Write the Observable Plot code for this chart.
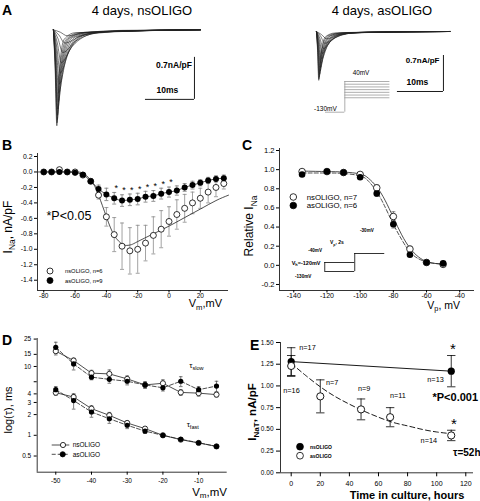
<!DOCTYPE html>
<html><head><meta charset="utf-8">
<script src="https://cdn.jsdelivr.net/npm/d3@7"></script>
<script src="https://cdn.jsdelivr.net/npm/@observablehq/plot@0.6"></script>
<style>
body{margin:0;background:#fff}
#root{position:relative;width:480px;height:501px;overflow:hidden;background:#fff}
</style></head>
<body><div id="root"></div>
<script>
// ---------------- DATA ----------------
// Panel A: current traces, [time ms, current nA/pF] control points
const tracesNs = [
 [[0,0],[0.35,-0.64],[0.7,-1.6],[1.1,-0.8],[2.2,-0.16],[4.4,-0.05],[30,0]],
 [[0,0],[0.38,-0.62],[0.75,-1.55],[1.2,-0.78],[2.6,-0.16],[5.2,-0.05],[30,0]],
 [[0,0],[0.4,-0.6],[0.8,-1.5],[1.35,-0.75],[3.0,-0.15],[6,-0.05],[30,0]],
 [[0,0],[0.43,-0.57],[0.85,-1.42],[1.5,-0.71],[3.4,-0.14],[6.8,-0.04],[30,0]],
 [[0,0],[0.45,-0.53],[0.9,-1.32],[1.7,-0.66],[3.9,-0.13],[7.8,-0.04],[30,0]],
 [[0,0],[0.5,-0.48],[1.0,-1.2],[1.95,-0.6],[4.5,-0.12],[9,-0.04],[30,0]],
 [[0,0],[0.55,-0.42],[1.1,-1.05],[2.3,-0.53],[5.2,-0.11],[10.4,-0.03],[30,0]],
 [[0,0],[0.63,-0.36],[1.25,-0.9],[2.7,-0.45],[6,-0.09],[12,-0.03],[30,0]],
 [[0,0],[0.7,-0.29],[1.4,-0.72],[3.2,-0.36],[7,-0.07],[14,-0.02],[30,0]],
 [[0,0],[0.8,-0.22],[1.6,-0.55],[3.8,-0.28],[8.5,-0.06],[17,-0.02],[30,0]],
 [[0,0],[0.95,-0.15],[1.9,-0.38],[4.5,-0.19],[10,-0.04],[20,-0.01],[30,0]],
 [[0,0],[1.15,-0.09],[2.3,-0.22],[5.5,-0.11],[12,-0.02],[30,0]],
 [[0,0],[1.4,-0.04],[2.8,-0.1],[6.5,-0.05],[14,-0.01],[30,0]]
];
const tracesAs = [
 [[0,0],[0.25,-0.38],[0.5,-0.95],[0.9,-0.48],[2.0,-0.1],[4,-0.03],[29,0]],
 [[0,0],[0.28,-0.37],[0.55,-0.92],[1.0,-0.46],[2.4,-0.09],[4.8,-0.03],[29,0]],
 [[0,0],[0.3,-0.35],[0.6,-0.88],[1.15,-0.44],[2.8,-0.09],[5.6,-0.03],[29,0]],
 [[0,0],[0.35,-0.33],[0.7,-0.83],[1.3,-0.42],[3.2,-0.08],[6.4,-0.02],[29,0]],
 [[0,0],[0.4,-0.31],[0.8,-0.77],[1.5,-0.39],[3.7,-0.08],[7.4,-0.02],[29,0]],
 [[0,0],[0.45,-0.28],[0.9,-0.7],[1.75,-0.35],[4.2,-0.07],[8.4,-0.02],[29,0]],
 [[0,0],[0.5,-0.25],[1.0,-0.62],[2.0,-0.31],[4.9,-0.06],[9.8,-0.02],[29,0]],
 [[0,0],[0.58,-0.21],[1.15,-0.53],[2.4,-0.27],[5.6,-0.05],[11.2,-0.02],[29,0]],
 [[0,0],[0.65,-0.17],[1.3,-0.43],[2.8,-0.22],[6.5,-0.04],[13,-0.01],[29,0]],
 [[0,0],[0.75,-0.13],[1.5,-0.33],[3.3,-0.17],[7.5,-0.03],[15,-0.01],[29,0]],
 [[0,0],[0.9,-0.09],[1.8,-0.23],[4.0,-0.12],[9,-0.02],[29,0]],
 [[0,0],[1.1,-0.06],[2.2,-0.14],[5,-0.07],[11,-0.01],[29,0]]
];
const scaleBarMs = 10, scaleBarAmp = 0.7;
const scaleCornerNs = [28.8, -1.16], scaleCornerAs = [27.6, -1.167];
// voltage protocol (A, right)
const protoHoldMv = -130, protoStepsMv = [40, 25, 10, -5, -20, -35, -50];
const protoTimesMs = [0, 4.2, 14];

// Panel B: I-V
const bV   = [-80,-75,-70,-65,-60,-55,-50,-45,-40,-35,-30,-25,-20,-15,-10,-5,0,5,10,15,20,25,30,35];
const bNs  = [0,0,0.03,0,0,-0.04,-0.12,-0.3,-0.58,-0.81,-0.96,-1.02,-1.0,-0.92,-0.82,-0.74,-0.64,-0.55,-0.47,-0.4,-0.34,-0.26,-0.2,-0.15];
const bNsErr = [0.01,0.01,0.02,0.01,0.01,0.02,0.03,0.05,0.12,0.22,0.3,0.3,0.31,0.23,0.24,0.24,0.19,0.19,0.18,0.14,0.13,0.14,0.12,0.07];
const bAs  = [0,0,0,0,-0.01,-0.035,-0.12,-0.22,-0.29,-0.34,-0.37,-0.36,-0.35,-0.32,-0.31,-0.28,-0.26,-0.24,-0.2,-0.17,-0.14,-0.11,-0.09,-0.08];
const bAsErr = [0.01,0.01,0.01,0.01,0.01,0.02,0.03,0.05,0.08,0.075,0.075,0.075,0.075,0.07,0.07,0.07,0.065,0.06,0.05,0.05,0.04,0.04,0.04,0.04];
const bFitV = [-84,-60,-55,-50,-45,-40,-35,-30,-27,-24,-20,-10,0,10,20,30,38];
const bFitI = [0,0,-0.02,-0.1,-0.3,-0.58,-0.82,-0.93,-0.95,-0.94,-0.9,-0.8,-0.7,-0.59,-0.48,-0.37,-0.3];
const bStarV = [-35,-30,-25,-20,-15,-10,-5,0];
const bXTicks = [-80,-60,-40,-20,0,20];
const bYTicks = [0.2,0,-0.2,-0.4,-0.6,-0.8,-1.0,-1.2,-1.4];

// Panel C: steady-state inactivation
const cV = [-135,-120,-110,-100,-90,-80,-70,-60,-50];
const cNs = [0.98,0.98,0.97,0.95,0.81,0.51,0.17,0.03,0.01];
const cNsErr = [0.01,0.01,0.01,0.01,0.03,0.05,0.03,0.01,0.01];
const cAs = [0.95,0.98,0.97,0.92,0.75,0.43,0.11,0.03,0.02];
const cAsErr = [0.01,0.01,0.01,0.02,0.03,0.04,0.02,0.01,0.01];
const cFitV = [-135,-120,-110,-100,-95,-90,-85,-80,-75,-70,-65,-60,-55,-50];
const cFitNs = [0.985,0.98,0.975,0.955,0.91,0.82,0.68,0.5,0.32,0.18,0.09,0.04,0.02,0.01];
const cFitAs = [0.965,0.965,0.96,0.935,0.88,0.77,0.61,0.43,0.27,0.14,0.07,0.035,0.02,0.015];
const cXTicks = [-140,-120,-100,-80,-60,-40];
const cYTicks = [-0.2,0,0.2,0.4,0.6,0.8,1.0,1.2];
// inset protocol (C)
const cProtoHoldMv = -120, cProtoPreMv = [-40,-55,-70,-85,-100,-115,-130], cProtoTestMv = -30;
const cProtoTimesS = [0, 2.17, 4.17, 6.17];

// Panel D: time constants
const dV = [-50,-45,-40,-35,-30,-25,-20,-15,-10,-5];
const dSlowNs = [16.7,12.2,8.0,7.8,6.6,5.4,5.7,4.2,4.1,3.9];
const dSlowNsErr = [2,1,0.8,1.1,0.7,0.5,0.7,0.4,0.4,0.3];
const dSlowAs = [19,10.9,7.0,6.5,6.1,5.4,4.9,6.1,4.6,5.2];
const dSlowAsErr = [3.5,2,0.6,0.8,0.7,0.6,0.5,1.0,0.5,0.9];
const dFastNs = [4.16,3.6,2.44,1.95,1.51,1.25,1.0,0.865,0.774,0.69];
const dFastNsErr = [0.35,0.35,0.25,0.2,0.1,0.07,0.05,0.04,0.03,0.03];
const dFastAs = [4.6,3.2,2.18,1.74,1.4,1.15,1.0,0.875,0.78,0.69];
const dFastAsErr = [0.5,0.8,0.35,0.25,0.15,0.08,0.05,0.05,0.04,0.03];
const dXTicks = [-50,-40,-30,-20,-10];
const dYTicks = [0.5,1,2,3,4,6,10,15,25];

// Panel E: current density vs time in culture
const eTimeNs = [0,110], eNs = [1.28,1.17], eNsErr = [0.16,0.18];
const eTimeAs = [0,20,48,68,110], eAs = [1.23,0.88,0.73,0.64,0.43], eAsErr = [0.12,0.19,0.12,0.11,0.06];
const eFitT = [0,10,20,30,40,50,60,70,80,90,100,110];
const eFitAs = [1.26,1.12,0.99,0.88,0.79,0.71,0.64,0.58,0.54,0.5,0.47,0.45];
const eNLabels = ["n=17","n=16","n=7","n=9","n=11","n=13","n=14"];
const eNLabelT = [11.2,0.2,28.2,50.2,73.4,99.2,94.6];
const eNLabelV = [1.44,0.94,1.04,0.97,0.89,1.07,0.37];
const eXTicks = [0,20,40,60,80,100,120];
const eYTicks = [0,0.25,0.5,0.75,1.0,1.25,1.5];

// ---------------- RENDER ----------------
const FONT = "Arial, 'Liberation Sans', Helvetica, sans-serif";
const root = document.getElementById("root");
function mount(svg, left, top) {
  svg.style.position = "absolute"; svg.style.left = left + "px"; svg.style.top = top + "px";
  svg.style.maxWidth = "none"; svg.style.background = "transparent"; svg.style.overflow = "visible";
  root.appendChild(svg);
}
const baseStyle = {fontFamily: FONT, fontSize: "7px", color: "black", background: "transparent", overflow: "visible"};
const cap = {draw(ctx, size) { const r = Math.sqrt(size / Math.PI); ctx.moveTo(-r, 0); ctx.lineTo(r, 0); }};
function errMarks(rows, x, y, e, color, capR, w = 0.8) {
  return [
    Plot.ruleX(rows, {x, y1: d => d[y] - d[e], y2: d => d[y] + d[e], stroke: color, strokeWidth: w}),
    Plot.dot(rows, {x, y: d => d[y] - d[e], symbol: cap, r: capR, stroke: color, fill: "none", strokeWidth: w}),
    Plot.dot(rows, {x, y: d => d[y] + d[e], symbol: cap, r: capR, stroke: color, fill: "none", strokeWidth: w})
  ];
}
const traceRows = trs => trs.flatMap((tr, k) => tr.map(([t, I]) => ({k, t, I})));

// A left
mount(Plot.plot({
  width: 240, height: 135, margin: 0, style: baseStyle,
  x: {domain: [-10.8, 38.2], axis: null}, y: {domain: [-1.762, 0.488], axis: null},
  marks: [
    Plot.line(traceRows(tracesNs), {x: "t", y: "I", z: "k", stroke: "#222", strokeWidth: 0.6, curve: "monotone-x"}),
    Plot.ruleX([scaleCornerNs[0]], {y1: scaleCornerNs[1], y2: scaleCornerNs[1] + scaleBarAmp, strokeWidth: 0.9}),
    Plot.ruleY([scaleCornerNs[1]], {x1: scaleCornerNs[0] - scaleBarMs, x2: scaleCornerNs[0], strokeWidth: 0.9})
  ]
}), 0, 0);
// A right
mount(Plot.plot({
  width: 240, height: 135, margin: 0, style: baseStyle,
  x: {domain: [-16.5, 35.65], axis: null}, y: {domain: [-2.023, 0.603], axis: null},
  marks: [
    Plot.line(traceRows(tracesAs), {x: "t", y: "I", z: "k", stroke: "#222", strokeWidth: 0.6, curve: "monotone-x"}),
    Plot.ruleX([scaleCornerAs[0]], {y1: scaleCornerAs[1], y2: scaleCornerAs[1] + scaleBarAmp, strokeWidth: 0.9}),
    Plot.ruleY([scaleCornerAs[1]], {x1: scaleCornerAs[0] - scaleBarMs, x2: scaleCornerAs[0], strokeWidth: 0.9})
  ]
}), 240, 0);
// A right protocol
mount(Plot.plot({
  width: 80, height: 50, margin: 0, style: baseStyle,
  x: {domain: [-1.087, 16.3], axis: null}, y: {domain: [-176, 101], axis: null},
  marks: [
    Plot.ruleY([protoHoldMv], {x1: protoTimesMs[0], x2: protoTimesMs[1], stroke: "#999", strokeWidth: 0.8}),
    Plot.ruleX([protoTimesMs[1]], {y1: protoHoldMv, y2: d3.max(protoStepsMv), stroke: "#999", strokeWidth: 0.8}),
    Plot.ruleY(protoStepsMv, {x1: protoTimesMs[1], x2: protoTimesMs[2], stroke: "#999", strokeWidth: 0.8})
  ]
}), 320, 70);

// B
const bRows = bV.map((v, i) => ({v, ns: bNs[i], nsE: bNsErr[i], as: bAs[i], asE: bAsErr[i]}));
const bFit = bFitV.map((v, i) => ({v, y: bFitI[i]}));
mount(Plot.plot({
  width: 240, height: 175, marginLeft: 37, marginRight: 12, marginTop: 13, marginBottom: 25, style: baseStyle,
  x: {domain: [-84, 38]}, y: {domain: [-1.533, 0.239]},
  marks: [
    Plot.ruleX([-84], {strokeWidth: 0.8}), Plot.ruleY([-1.533], {strokeWidth: 0.8}),
    Plot.axisX({ticks: bXTicks, tickSize: 2.5, tickPadding: 0.5, fontSize: 6.5, label: null, tickFormat: d => String(d)}),
    Plot.axisY({ticks: bYTicks, tickSize: 3, tickPadding: 2, fontSize: 6.8, label: null, tickFormat: d => d.toFixed(1)}),
    ...errMarks(bRows, "v", "ns", "nsE", "#8a8a8a", 2),
    ...errMarks(bRows, "v", "as", "asE", "#777", 2),
    Plot.line(bFit, {x: "v", y: "y", curve: "natural", stroke: "#222", strokeWidth: 0.8}),
    Plot.line(bRows, {x: "v", y: "as", curve: "monotone-x", stroke: "#222", strokeWidth: 0.8}),
    Plot.dot(bRows, {x: "v", y: "ns", r: 3, fill: "white", stroke: "black", strokeWidth: 0.8}),
    Plot.dot(bRows, {x: "v", y: "as", r: 3, fill: "black"}),
    Plot.text(bRows.filter(d => bStarV.includes(d.v)), {x: "v", y: "as", text: () => "*", dx: 2, dy: -10, fontSize: 9})
  ]
}), 0, 140);

// C
const cRows = cV.map((v, i) => ({v, ns: cNs[i], nsE: cNsErr[i], as: cAs[i], asE: cAsErr[i]}));
const cFit = cFitV.map((v, i) => ({v, ns: cFitNs[i], as: cFitAs[i]}));
mount(Plot.plot({
  width: 240, height: 175, marginLeft: 39, marginRight: 6, marginTop: 8, marginBottom: 25, style: baseStyle,
  x: {domain: [-148.6, -31.1]}, y: {domain: [-0.263, 1.221]},
  marks: [
    Plot.ruleX([-148.6], {strokeWidth: 0.8}), Plot.ruleY([-0.263], {strokeWidth: 0.8}),
    Plot.axisX({ticks: cXTicks, tickSize: 2.5, tickPadding: 0.5, fontSize: 7, label: null, tickFormat: d => String(d)}),
    Plot.axisY({ticks: cYTicks, tickSize: 3, tickPadding: 2, fontSize: 7.6, label: null, tickFormat: d => d.toFixed(1)}),
    ...errMarks(cRows, "v", "ns", "nsE", "#666", 2),
    ...errMarks(cRows, "v", "as", "asE", "#666", 2),
    Plot.line(cFit, {x: "v", y: "ns", curve: "natural", stroke: "#222", strokeWidth: 0.8}),
    Plot.line(cFit, {x: "v", y: "as", curve: "natural", stroke: "#222", strokeWidth: 0.8, strokeDasharray: "4,2"}),
    Plot.dot(cRows, {x: "v", y: "ns", r: 3.3, fill: "white", stroke: "black", strokeWidth: 0.8}),
    Plot.dot(cRows, {x: "v", y: "as", r: 3.3, fill: "black"})
  ]
}), 240, 140);
// C inset protocol
mount(Plot.plot({
  width: 110, height: 60, margin: 0, style: baseStyle,
  x: {domain: [-0.447, 6.887], axis: null}, y: {domain: [-130, -40, -30], range: [51, 23.3, 10], axis: null},
  marks: [
    Plot.ruleY([cProtoHoldMv], {x1: cProtoTimesS[0], x2: cProtoTimesS[1], strokeWidth: 0.8}),
    Plot.ruleX([cProtoTimesS[1]], {y1: d3.min(cProtoPreMv), y2: d3.max(cProtoPreMv), strokeWidth: 0.8}),
    Plot.ruleY(cProtoPreMv, {x1: cProtoTimesS[1], x2: cProtoTimesS[2], strokeWidth: 0.8}),
    Plot.ruleX([cProtoTimesS[2]], {y1: d3.min(cProtoPreMv), y2: cProtoTestMv, strokeWidth: 0.8}),
    Plot.ruleY([cProtoTestMv], {x1: cProtoTimesS[2], x2: cProtoTimesS[3], strokeWidth: 0.8})
  ]
}), 285, 225);

// D
const dRows = dV.map((v, i) => ({v, sN: dSlowNs[i], sNE: dSlowNsErr[i], sA: dSlowAs[i], sAE: dSlowAsErr[i],
  fN: dFastNs[i], fNE: dFastNsErr[i], fA: dFastAs[i], fAE: dFastAsErr[i]}));
mount(Plot.plot({
  width: 240, height: 181, marginLeft: 36.7, marginRight: 13.3, marginTop: 18, marginBottom: 29.3, style: baseStyle,
  x: {domain: [-55.2, -2.0]}, y: {type: "log", domain: [0.291, 25.5]},
  marks: [
    Plot.ruleX([-55.2], {strokeWidth: 0.8}), Plot.ruleY([0.291], {strokeWidth: 0.8}),
    Plot.axisX({ticks: dXTicks, tickSize: 3, tickPadding: 3, fontSize: 6.5, label: null, tickFormat: d => String(d)}),
    Plot.axisY({ticks: dYTicks, tickSize: 3, tickPadding: 3, fontSize: 6.5, label: null, tickFormat: d => String(d)}),
    ...errMarks(dRows, "v", "sN", "sNE", "#444", 1.8, 0.7),
    ...errMarks(dRows, "v", "sA", "sAE", "#444", 1.8, 0.7),
    ...errMarks(dRows, "v", "fN", "fNE", "#444", 1.8, 0.7),
    ...errMarks(dRows, "v", "fA", "fAE", "#444", 1.8, 0.7),
    Plot.line(dRows, {x: "v", y: "sN", stroke: "#222", strokeWidth: 0.8}),
    Plot.line(dRows, {x: "v", y: "fN", stroke: "#222", strokeWidth: 0.8}),
    Plot.line(dRows, {x: "v", y: "sA", stroke: "#222", strokeWidth: 0.8, strokeDasharray: "4,2"}),
    Plot.line(dRows, {x: "v", y: "fA", stroke: "#222", strokeWidth: 0.8, strokeDasharray: "4,2"}),
    Plot.dot(dRows, {x: "v", y: "sN", r: 2.6, fill: "white", stroke: "black", strokeWidth: 0.8}),
    Plot.dot(dRows, {x: "v", y: "fN", r: 2.6, fill: "white", stroke: "black", strokeWidth: 0.8}),
    Plot.dot(dRows, {x: "v", y: "sA", r: 2.6, fill: "black"}),
    Plot.dot(dRows, {x: "v", y: "fA", r: 2.6, fill: "black"})
  ]
}), 0, 320);

// E
const eNsRows = eTimeNs.map((t, i) => ({t, y: eNs[i], e: eNsErr[i]}));
const eAsRows = eTimeAs.map((t, i) => ({t, y: eAs[i], e: eAsErr[i]}));
const eFit = eFitT.map((t, i) => ({t, y: eFitAs[i]}));
const eLab = eNLabels.map((s, i) => ({s, t: eNLabelT[i], y: eNLabelV[i]}));
mount(Plot.plot({
  width: 240, height: 181, marginLeft: 40, marginRight: 7, marginTop: 22, marginBottom: 28.7, style: baseStyle,
  x: {domain: [-7.35, 125.3]}, y: {domain: [0, 1.5]},
  marks: [
    Plot.ruleX([-7.35], {strokeWidth: 0.8}), Plot.ruleY([0], {strokeWidth: 0.8}),
    Plot.axisX({ticks: eXTicks, tickSize: 4, tickPadding: 4, fontSize: 7, label: null, tickFormat: d => String(d)}),
    Plot.axisY({ticks: eYTicks, tickSize: 4, tickPadding: 3, fontSize: 6.5, label: null, tickFormat: d => d.toFixed(2)}),
    Plot.line(eNsRows, {x: "t", y: "y", stroke: "black", strokeWidth: 0.9}),
    Plot.line(eFit, {x: "t", y: "y", curve: "natural", stroke: "black", strokeWidth: 0.9, strokeDasharray: "5,3"}),
    ...errMarks(eNsRows, "t", "y", "e", "black", 4.2, 0.8),
    ...errMarks(eAsRows, "t", "y", "e", "black", 4.2, 0.8),
    Plot.dot(eNsRows, {x: "t", y: "y", r: 3.6, fill: "black"}),
    Plot.dot(eAsRows, {x: "t", y: "y", r: 3.6, fill: "white", stroke: "black", strokeWidth: 0.9}),
    Plot.text(eLab, {x: "t", y: "y", text: "s", fontSize: 7.3})
  ]
}), 240, 320);

// ---------------- TEXT OVERLAY ----------------
const ov = d3.create("svg").attr("width", 480).attr("height", 501)
  .style("position", "absolute").style("left", "0px").style("top", "0px")
  .style("font-family", FONT).style("pointer-events", "none");
function T(x, y, parts, {size = 10, weight = "normal", anchor = "start", rot = false, sub = 0.3} = {}) {
  const t = ov.append("text").attr("font-size", size).attr("font-weight", weight)
    .attr("text-anchor", anchor).attr("fill", "black");
  if (rot) t.attr("transform", `translate(${x},${y}) rotate(-90)`); else t.attr("x", x).attr("y", y);
  let shift = 0;
  (Array.isArray(parts) ? parts : [[parts]]).forEach(([s, kind]) => {
    const sp = t.append("tspan").text(s);
    const want = kind === "sub" ? size * sub : 0;
    if (want !== shift) { sp.attr("dy", want - shift); shift = want; }
    if (kind === "sub") sp.attr("font-size", size * 0.7);
  });
  return t;
}
function dot(x, y, r, filled) {
  ov.append("circle").attr("cx", x).attr("cy", y).attr("r", r)
    .attr("fill", filled ? "black" : "white").attr("stroke", "black").attr("stroke-width", 0.8);
}
function seg(x1, y1, x2, y2, dash) {
  const l = ov.append("line").attr("x1", x1).attr("y1", y1).attr("x2", x2).attr("y2", y2)
    .attr("stroke", "#222").attr("stroke-width", 0.8);
  if (dash) l.attr("stroke-dasharray", dash);
}

// A
T(2, 15, "A", {size: 14, weight: "bold"});
T(142, 14.5, "4 days, nsOLIGO", {size: 13, anchor: "middle"});
T(382, 14.5, "4 days, asOLIGO", {size: 13, anchor: "middle"});
T(156, 67.5, "0.7nA/pF", {size: 8.5, weight: "bold"});
T(156.5, 93, "10ms", {size: 8.5, weight: "bold"});
T(405.7, 63.3, "0.7nA/pF", {size: 8, weight: "bold"});
T(406.5, 85, "10ms", {size: 8.5, weight: "bold"});
T(352.7, 75, "40mV", {size: 6.4});
T(314, 111, "-130mV", {size: 6.5});

// B
T(2, 150, "B", {size: 14, weight: "bold"});
T(11.5, 227, [["I"], ["Na", "sub"], [", nA/pF"]], {size: 12, anchor: "middle", rot: true});
T(46.5, 220, "*P<0.05", {size: 12.5});
dot(50, 271, 3, false); T(65, 273.3, "nsOLIGO, n=6", {size: 5.8});
dot(50, 280.5, 3, true); T(65, 282.8, "asOLIGO, n=9", {size: 5.8});
T(222, 306.5, [["V"], ["m", "sub"], [",mV"]], {size: 11, anchor: "end"});

// C
T(242, 150, "C", {size: 14, weight: "bold"});
T(253, 226, [["Relative I"], ["Na", "sub"]], {size: 12, anchor: "middle", rot: true});
dot(293.3, 197, 3.3, false); T(306.7, 199.8, "nsOLIGO, n=7", {size: 7.8});
dot(293.3, 205.5, 3.3, true); T(306.7, 208.3, "asOLIGO, n=6", {size: 7.8});
T(460, 309, [["V"], ["p", "sub"], [", mV"]], {size: 10.5, anchor: "end", sub: 0.22});
T(360, 231.5, "-30mV", {size: 4.6, weight: "bold"});
T(330, 244, [["V"], ["p", "sub"], [", 2s"]], {size: 5, weight: "bold"});
T(322, 251.5, "-40mV", {size: 4.6, weight: "bold", anchor: "end"});
T(291.7, 264.5, [["V"], ["h", "sub"], ["=-120mV"]], {size: 5.5, weight: "bold"});
T(295, 277.5, "-130mV", {size: 4.6, weight: "bold"});

// D
T(2, 345, "D", {size: 14, weight: "bold"});
T(11.5, 410, "log(τ), ms", {size: 11, anchor: "middle", rot: true});
seg(51.7, 445, 69.3, 445); dot(63, 445, 2.6, false); T(72.7, 447.3, "nsOLIGO", {size: 6.5});
seg(51.7, 454.3, 69.3, 454.3, "4,2"); dot(62.7, 454.3, 2.6, true); T(72.7, 456.6, "asOLIGO", {size: 6.5});
T(189.3, 368, [["τ"], ["slow", "sub"]], {size: 8});
T(186.7, 427, [["τ"], ["fast", "sub"]], {size: 8});
T(227, 495.5, [["V"], ["m", "sub"], [",mV"]], {size: 11.5, anchor: "end", sub: 0.2});

// E
T(250, 349.5, "E", {size: 14, weight: "bold"});
T(255.5, 412, [["I"], ["NaT", "sub"], [", nA/pF"]], {size: 11.5, weight: "bold", anchor: "middle", rot: true});
T(453, 354, "*", {size: 15, anchor: "middle"});
T(454, 429, "*", {size: 15, anchor: "middle"});
T(432.5, 401, "*P<0.001", {size: 11, weight: "bold"});
T(453, 455.5, "τ=52h", {size: 10, weight: "bold"});
dot(300, 446.7, 3.4, true); T(310, 448.6, "nsOLIGO", {size: 5, weight: "bold"});
dot(300, 455.7, 3.4, false); T(310, 457.6, "asOLIGO", {size: 5, weight: "bold"});
T(407, 499, "Time in culture, hours", {size: 11, weight: "bold", anchor: "middle"});

root.appendChild(ov.node());
</script>
</body></html>
